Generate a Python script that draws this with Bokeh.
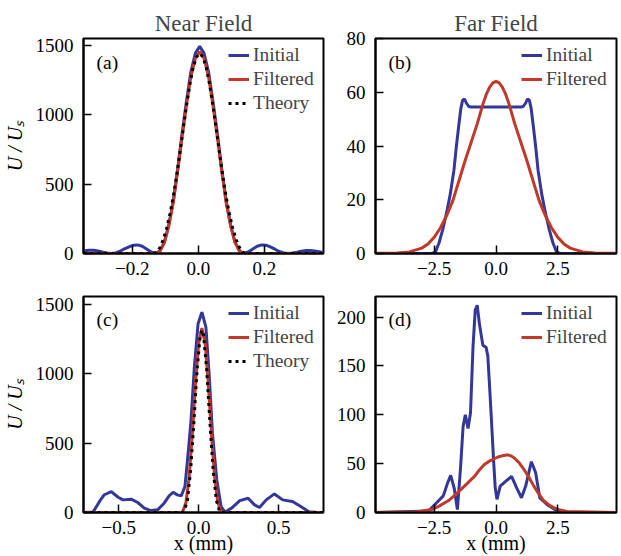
from bokeh.plotting import figure
from bokeh.models import Range1d, FixedTicker, Label
from bokeh.layouts import gridplot
from bokeh.embed import file_html
from bokeh.resources import INLINE

BLUE = "#33379a"
RED = "#c0392b"
FONT = "Liberation Serif"

# ---------------- data ----------------
# (a) near field, case 1
a_init_x = [-0.348, -0.344, -0.331, -0.318, -0.304, -0.291, -0.277, -0.264, -0.251, -0.237,
            -0.224, -0.210, -0.197, -0.184, -0.170, -0.157, -0.143, -0.130, -0.117, -0.103,
            -0.090, -0.076, -0.063, -0.050, -0.036, -0.023, -0.009, 0.004, 0.017, 0.031,
            0.044, 0.058, 0.071, 0.084, 0.098, 0.111, 0.125, 0.138, 0.151, 0.165,
            0.178, 0.192, 0.205, 0.218, 0.232, 0.245, 0.259, 0.272, 0.285, 0.299,
            0.312, 0.326, 0.339, 0.352, 0.366, 0.379]
a_init_y = [19, 20, 24, 24, 19, 11, 3, 0, 4, 16,
            34, 48, 60, 62, 52, 33, 11, 0, 18, 82,
            202, 379, 604, 853, 1098, 1304, 1442, 1490, 1442, 1304,
            1098, 853, 604, 379, 202, 82, 18, 0, 11, 33,
            52, 62, 60, 48, 31, 14, 4, 0, 3, 10,
            17, 21, 22, 18, 12, 6]
a_filt_x = [-0.348, -0.130, -0.117, -0.103, -0.090, -0.076, -0.063, -0.050, -0.036, -0.023,
            -0.009, 0.004, 0.017, 0.031, 0.044, 0.058, 0.071, 0.084, 0.098, 0.111,
            0.125, 0.138, 0.379]
a_filt_y = [0, 0, 14, 78, 196, 368, 588, 830, 1068, 1270,
            1405, 1452, 1405, 1270, 1068, 830, 588, 368, 196, 78,
            14, 0, 0]
a_theo_x = [-0.348, -0.136, -0.126, -0.116, -0.106, -0.096, -0.086, -0.076, -0.066, -0.056,
            -0.046, -0.036, -0.026, -0.016, -0.006, 0.004, 0.014, 0.024, 0.034, 0.044,
            0.054, 0.064, 0.074, 0.084, 0.094, 0.104, 0.114, 0.124, 0.134, 0.144, 0.379]
a_theo_y = [0, 0, 10, 45, 102, 182, 285, 410, 557, 722,
            895, 1064, 1216, 1336, 1413, 1440, 1413, 1336, 1216, 1064,
            895, 722, 557, 410, 285, 182, 102, 45, 10, 0, 0]

# (b) far field, case 1
b_init_x = [-4.87, -3.0, -2.6, -2.45, -2.3, -2.15, -2.0, -1.85, -1.7, -1.6, -1.5, -1.42,
            -1.35, -1.27, -1.2, -1.1, -1.0, 0.0, 1.0, 1.1, 1.2, 1.27, 1.35, 1.42, 1.5,
            1.6, 1.7, 1.85, 2.0, 2.15, 2.3, 2.45, 2.6, 3.0, 4.87]
b_init_y = [0, 0, 0, 0.5, 4, 9, 15, 22, 31, 40, 48, 54,
            57, 57.5, 56, 54.7, 54.5, 54.5, 54.5, 54.7, 56, 57.5, 57, 54, 48,
            40, 31, 22, 15, 9, 4, 0.5, 0, 0, 0]
b_filt_x = [-4.87, -4.0, -3.5, -3.0, -2.75, -2.5, -2.25, -2.0, -1.75, -1.5, -1.25, -1.0,
            -0.75, -0.625, -0.5, -0.375, -0.25, -0.125, 0.0, 0.125, 0.25, 0.375, 0.5, 0.625,
            0.75, 1.0, 1.25, 1.5, 1.75, 2.0, 2.25, 2.5, 2.75, 3.0, 3.5, 4.0, 4.87]
b_filt_y = [0.05, 0.2, 0.6, 2.0, 3.5, 6, 9.5, 14, 19.5, 27, 34.5, 41.5,
            48.5, 52.5, 56.4, 59.6, 62, 63.5, 64, 63.5, 62, 59.6, 56.4, 52.5,
            48.5, 41.5, 34.5, 27, 19.5, 14, 9.5, 6, 3.5, 2.0, 0.6, 0.2, 0.05]

# (c) near field, case 2
c_init_x = [-0.72, -0.66, -0.62, -0.59, -0.546, -0.504, -0.473, -0.422, -0.381, -0.340,
            -0.299, -0.257, -0.216, -0.185, -0.160, -0.134, -0.109, -0.086, -0.066, -0.048,
            -0.027, -0.004, 0.020, 0.045, 0.065, 0.086, 0.113, 0.140, 0.164, 0.206,
            0.257, 0.309, 0.349, 0.380, 0.422, 0.473, 0.525, 0.586, 0.638, 0.689,
            0.741, 0.78]
c_init_y = [0, 3, 80, 128, 151, 110, 91, 96, 72, 32,
            14, 19, 67, 120, 146, 127, 120, 187, 427, 666,
            1049, 1360, 1444, 1336, 1001, 570, 235, 43, 3, 32,
            86, 103, 55, 36, 91, 134, 91, 79, 43, 5,
            0, 0]
c_filt_x = [-0.72, -0.11, -0.10, -0.08, -0.06, -0.04, -0.02, 0.00, 0.02, 0.04,
            0.06, 0.08, 0.10, 0.12, 0.14, 0.15, 0.78]
c_filt_y = [0, 0, 8, 70, 250, 560, 930, 1220, 1330, 1220,
            930, 560, 250, 70, 8, 0, 0]
c_theo_x = [-0.72, -0.10, -0.09, -0.07, -0.05, -0.03, -0.01, 0.01, 0.02, 0.03,
            0.05, 0.07, 0.09, 0.11, 0.13, 0.14, 0.78]
c_theo_y = [0, 0, 10, 90, 310, 650, 1030, 1280, 1315, 1280,
            1030, 650, 310, 90, 10, 0, 0]

# (d) far field, case 2
d_init_x = [-4.87, -2.73, -2.40, -2.13, -1.96, -1.83, -1.69, -1.56, -1.43, -1.33,
            -1.24, -1.13, -1.03, -0.93, -0.84, -0.76, -0.67, -0.53, -0.40, -0.33,
            -0.25, -0.17, -0.09, -0.03, 0.04, 0.17, 0.40, 0.63, 0.84, 1.03,
            1.20, 1.43, 1.60, 1.77, 2.07, 2.47, 2.87, 4.87]
d_init_y = [0, 1.6, 10, 17, 30, 38, 25, 3, 47, 88,
            100, 86, 102, 169, 207, 212, 193, 171, 169, 160,
            125, 88, 50, 25, 13.5, 27, 32, 37, 25, 15,
            27, 52, 41, 15, 8, 1.6, 0, 0]
d_filt_x = [-4.87, -3.27, -3.0, -2.6, -2.3, -1.93, -1.65, -1.40, -1.15, -0.87,
            -0.67, -0.47, -0.27, -0.07, 0.10, 0.27, 0.47, 0.60, 0.73, 0.93,
            1.13, 1.33, 1.53, 1.73, 1.93, 2.13, 2.33, 2.60, 2.87, 4.87]
d_filt_y = [0, 0.5, 1.5, 3, 6.5, 12, 18, 24, 30, 37,
            43.5, 49, 52.5, 55, 57, 58, 59, 58, 56, 51,
            44, 36, 27, 19, 12, 8, 5, 2.5, 1, 0]

near_xticks_1 = [-0.2, 0.0, 0.2]
near_xlabels_1 = ["\u22120.2", "0.0", "0.2"]
near_xticks_2 = [-0.5, 0.0, 0.5]
near_xlabels_2 = ["\u22120.5", "0.0", "0.5"]
far_xticks = [-2.5, 0.0, 2.5]
far_xlabels = ["\u22122.5", "0.0", "2.5"]
a_yticks = [0, 500, 1000, 1500]
b_yticks = [0, 20, 40, 60, 80]
c_yticks = [0, 500, 1000, 1500]
d_yticks = [0, 50, 100, 150, 200]

Y_LABEL = "U / U\u209b"
X_LABEL = "x (mm)"

LW = 3
W_A, W_B = 333, 287
H_TOP, H_BOT = 284, 272


def make(w, h, xr, yr, bl, br, bt, bb, xticks, xlabels, yticks,
         title=None, ylab=False, xlab=False):
    p = figure(width=w, height=h, x_range=Range1d(*xr), y_range=Range1d(*yr),
               output_backend="svg", toolbar_location=None, min_border=0,
               min_border_left=bl, min_border_right=br,
               min_border_top=bt, min_border_bottom=bb)
    p.background_fill_color = "white"
    p.border_fill_color = "white"
    p.grid.visible = False
    p.outline_line_color = "black"
    p.outline_line_width = 2
    p.outline_line_alpha = 1.0
    if title:
        p.title.text = title
        p.title.text_font = FONT
        p.title.text_font_size = "23px"
        p.title.text_font_style = "normal"
        p.title.align = "center"
        p.title.standoff = 5
    p.xaxis.ticker = FixedTicker(ticks=xticks)
    p.xaxis.major_label_overrides = dict(zip(xticks, xlabels))
    p.yaxis.ticker = FixedTicker(ticks=yticks)
    for ax in (p.xaxis[0], p.yaxis[0]):
        ax.major_tick_in = 8
        ax.major_tick_out = 0
        ax.minor_tick_line_color = None
        ax.major_tick_line_width = 1.5
        ax.major_tick_line_color = "black"
        ax.axis_line_color = "black"
        ax.axis_line_width = 2
        ax.major_label_text_font = FONT
        ax.major_label_text_font_size = "19px"
        ax.major_label_text_color = "black"
        ax.axis_label_text_font = FONT
        ax.axis_label_text_font_size = "20px"
        ax.axis_label_text_color = "black"
    p.yaxis.major_label_standoff = 10
    p.xaxis.major_label_standoff = 8
    if ylab:
        p.yaxis.axis_label = Y_LABEL
        p.yaxis.axis_label_text_font_style = "italic"
        p.yaxis.axis_label_standoff = 7
    if xlab:
        p.xaxis.major_label_text_line_height = 1.0
        p.xaxis.axis_label = X_LABEL
        p.xaxis.axis_label_text_font_style = "normal"
        p.xaxis.axis_label_text_line_height = 1.0
        p.xaxis.axis_label_standoff = -5
    return p


def style_legend(p):
    lg = p.legend[0]
    lg.location = "top_right"
    lg.border_line_color = None
    lg.background_fill_alpha = 0
    lg.label_text_font = FONT
    lg.label_text_font_size = "19.5px"
    lg.glyph_width = 21
    lg.glyph_height = 20
    lg.label_height = 20
    lg.label_width = 64
    lg.label_standoff = 4
    lg.spacing = 2
    lg.padding = 5
    lg.margin = 6


def panel_label(p, y, text):
    p.add_layout(Label(x=13, y=y, x_units="screen", y_units="screen", text=text,
                       text_font=FONT, text_font_size="19.5px",
                       text_align="left", text_baseline="middle", text_color="black"))


# ---- (a)
pa = make(W_A, H_TOP, (-0.348, 0.379), (0, 1547), 80, 10, 38, 31,
          near_xticks_1, near_xlabels_1, a_yticks, title="Near Field", ylab=True)
pa.line(a_init_x, a_init_y, color=BLUE, line_width=LW, legend_label="Initial")
pa.line(a_filt_x, a_filt_y, color=RED, line_width=LW, legend_label="Filtered")
pa.line(a_theo_x, a_theo_y, color="black", line_width=LW, line_dash="3 4",
        legend_label="Theory")
style_legend(pa)
panel_label(pa, 191, "(a)")

# ---- (b)
pb = make(W_B, H_TOP, (-4.87, 4.87), (0, 80), 40, 4, 38, 31,
          far_xticks, far_xlabels, b_yticks, title="Far Field")
pb.line(b_init_x, b_init_y, color=BLUE, line_width=LW, legend_label="Initial")
pb.line(b_filt_x, b_filt_y, color=RED, line_width=LW, legend_label="Filtered")
style_legend(pb)
panel_label(pb, 191, "(b)")

# ---- (c)
pc = make(W_A, H_BOT, (-0.72, 0.78), (0, 1557), 80, 10, 12, 43,
          near_xticks_2, near_xlabels_2, c_yticks, ylab=True, xlab=True)
pc.line(c_init_x, c_init_y, color=BLUE, line_width=LW, legend_label="Initial")
pc.line(c_filt_x, c_filt_y, color=RED, line_width=LW, legend_label="Filtered")
pc.line(c_theo_x, c_theo_y, color="black", line_width=LW, line_dash="3 4",
        legend_label="Theory")
style_legend(pc)
panel_label(pc, 193, "(c)")

# ---- (d)
pd = make(W_B, H_BOT, (-4.87, 4.87), (0, 221), 40, 4, 12, 43,
          far_xticks, far_xlabels, d_yticks, xlab=True)
pd.line(d_init_x, d_init_y, color=BLUE, line_width=LW, legend_label="Initial")
pd.line(d_filt_x, d_filt_y, color=RED, line_width=LW, legend_label="Filtered")
style_legend(pd)
panel_label(pd, 193, "(d)")

grid = gridplot([[pa, pb], [pc, pd]], toolbar_location=None)

open("out.html", "w").write(file_html(grid, INLINE))
